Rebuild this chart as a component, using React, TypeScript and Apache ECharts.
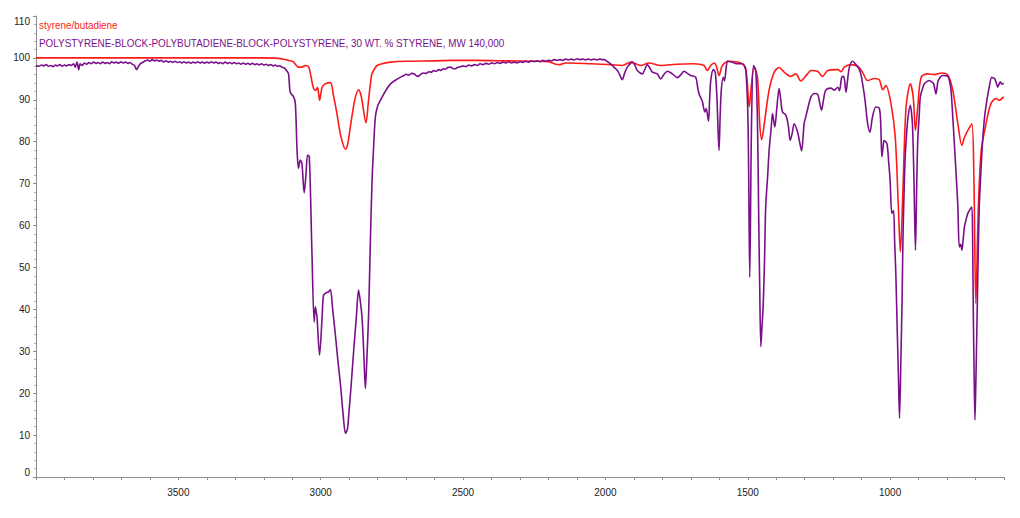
import React, { useEffect, useRef } from "react";
import * as echarts from "echarts";

const SERIES_RED_NAME = "styrene/butadiene";
const SERIES_PURPLE_NAME =
  "POLYSTYRENE-BLOCK-POLYBUTADIENE-BLOCK-POLYSTYRENE, 30 WT. % STYRENE, MW 140,000";

const X_MIN = 600;
const X_MAX = 4000;
const Y_MIN = 0;
const Y_MAX = 110;
const X_LABEL_STEP = 500;

// [wavenumber (cm-1), transmittance (%)]
const styreneButadiene: [number, number][] = [
  [4000, 100], [3500, 100], [3200, 100], [3150, 99.9], [3125, 99.6], [3113, 99.4],
  [3100, 99.2], [3095, 99.0], [3085, 98.2], [3078, 97.8], [3066, 97.8], [3054, 98.2],
  [3042, 97.8], [3034, 95.5], [3025, 92.7], [3017, 92.3], [3011, 93.0], [3004, 89.9],
  [2995, 93.0], [2984, 93.8], [2966, 94.1], [2955, 91], [2943, 86.7], [2930, 81.5],
  [2913, 78.2], [2905, 79.5], [2896, 83.5], [2887, 87.5], [2878, 90.7], [2867, 92.4],
  [2860, 91.5], [2855, 89.9], [2841, 84.5], [2832, 89.9], [2826, 93.5], [2820, 96.2],
  [2810, 97.5], [2802, 98.2], [2780, 98.7], [2755, 99.0], [2700, 99.2], [2600, 99.3],
  [2544, 99.4], [2450, 99.4], [2350, 99.3], [2250, 99.2], [2200, 99.1], [2175, 98.5],
  [2160, 98.4], [2140, 98.8], [2122, 98.8], [2050, 98.6], [1982, 98.4], [1941, 98.2],
  [1911, 99.0], [1876, 98.2], [1847, 98.8], [1806, 98.2], [1750, 98.5], [1689, 98.6],
  [1654, 98.2], [1642, 97.0], [1630, 98.2], [1618, 98.8], [1610, 98], [1601, 95.8],
  [1589, 98.2], [1566, 99.2], [1525, 98.8], [1507, 97.5], [1495, 88.3], [1487, 93.7],
  [1478, 97.8], [1466, 95.4], [1458, 84.3], [1451, 80.5], [1442, 84.3], [1425, 92.3],
  [1407, 96.6], [1390, 97.7], [1372, 96.6], [1349, 95.6], [1331, 96.2], [1314, 94.5],
  [1290, 96.2], [1278, 97.0], [1255, 96.8], [1237, 95.6], [1219, 97.0], [1184, 97.2],
  [1172, 96.7], [1161, 97.8], [1138, 98.4], [1114, 98.0], [1097, 96.6], [1079, 94.6],
  [1056, 95.1], [1038, 94.8], [1026, 92.4], [1015, 93.4], [997, 89.1], [982, 81.1],
  [971, 64.4], [964, 53.7], [955, 68.4], [944, 88.3], [929, 93.8], [919, 90.7],
  [911, 82.7], [903, 88.3], [891, 95.4], [868, 96.2], [844, 96.0], [820, 96.4],
  [797, 95.9], [780, 92.3], [762, 84.3], [748, 79.1], [739, 81.0], [727, 82.7],
  [713, 84.3], [706, 72.4], [699, 41.4], [690, 64.4], [680, 77.9], [663, 84.3],
  [646, 89.1], [628, 90.3], [617, 89.9], [601, 90.7],
];

const sbsCopolymer: [number, number][] = [
  [4000, 98.2], [3990, 98.0], [3980, 98.3], [3972, 98.1], [3964, 98.4], [3956, 98.0],
  [3948, 98.2], [3940, 97.9], [3932, 98.3], [3924, 98.1], [3916, 98.4], [3908, 98.0],
  [3900, 98.3], [3892, 98.1], [3884, 98.4], [3876, 98.2], [3868, 98.6], [3862, 97.8],
  [3856, 99.0], [3850, 97.2], [3845, 98.6], [3838, 98.2], [3830, 98.8], [3822, 98.5],
  [3814, 98.9], [3806, 98.6], [3798, 99.0], [3790, 98.7], [3782, 98.9], [3774, 98.6],
  [3766, 99.0], [3758, 98.7], [3750, 98.9], [3742, 98.6], [3734, 99.1], [3726, 98.8],
  [3718, 99.0], [3710, 98.7], [3702, 99.1], [3694, 98.8], [3686, 99.0], [3678, 98.7],
  [3670, 98.9], [3662, 98.5], [3654, 98.2], [3647, 97.2], [3640, 98.0], [3632, 98.7],
  [3624, 99.0], [3616, 99.3], [3608, 99.5], [3600, 99.2], [3592, 99.6], [3584, 99.3],
  [3576, 99.5], [3568, 99.2], [3560, 99.4], [3552, 99.0], [3544, 99.3], [3536, 99.0],
  [3528, 99.2], [3520, 98.9], [3512, 99.2], [3504, 98.9], [3496, 99.1], [3488, 98.8],
  [3480, 99.1], [3472, 98.8], [3464, 99.0], [3456, 98.7], [3448, 99.0], [3440, 98.8],
  [3432, 99.1], [3424, 98.8], [3416, 99.0], [3408, 98.7], [3400, 99.0], [3392, 98.8],
  [3384, 99.1], [3376, 98.8], [3368, 99.0], [3360, 98.7], [3352, 98.9], [3344, 98.6],
  [3336, 99.0], [3328, 98.7], [3320, 98.9], [3312, 98.6], [3304, 98.9], [3296, 98.6],
  [3288, 98.8], [3280, 98.5], [3272, 98.8], [3264, 98.5], [3256, 98.7], [3248, 98.4],
  [3240, 98.7], [3232, 98.4], [3224, 98.6], [3216, 98.3], [3208, 98.6], [3200, 98.3],
  [3192, 98.5], [3184, 98.2], [3176, 98.4], [3168, 98.1], [3160, 98.3], [3152, 98.0],
  [3144, 98.1], [3136, 97.8], [3128, 97.6], [3120, 97.0], [3113, 96.2],
  [3107, 91.8], [3095, 90.7], [3089, 89.1], [3083, 77.9], [3078, 73.6], [3072, 75.6],
  [3066, 74.8], [3058, 67.8], [3052, 72], [3046, 76.8], [3040, 76.4], [3031, 54.1],
  [3023, 37.0], [3019, 40.6], [3016, 39.5], [3013, 38.2], [3004, 29.1], [2995, 38.2],
  [2990, 43.4], [2980, 44.0], [2972, 44.2], [2966, 44.7], [2958, 40], [2949, 34.3],
  [2940, 28], [2931, 22.3], [2920, 14], [2913, 10.4], [2906, 11.5], [2902, 14.4],
  [2893, 22], [2884, 30.3], [2875, 38], [2867, 44.6], [2861, 42], [2855, 38.2],
  [2849, 30], [2843, 21.1], [2838, 28], [2832, 38.2], [2826, 55], [2820, 70.0],
  [2814, 79], [2808, 85.9], [2800, 88.5], [2790, 89.9], [2775, 91.8], [2755, 93.8],
  [2730, 95], [2708, 95.8], [2700, 96.1], [2690, 95.9], [2680, 96.3], [2673, 96.2],
  [2665, 95.8], [2658, 95.6], [2650, 96.0], [2640, 96.4], [2630, 96.3], [2620, 96.7],
  [2610, 96.6], [2603, 97.0], [2594, 96.8], [2586, 97.2], [2578, 97.0], [2570, 97.4],
  [2562, 97.3], [2554, 97.7], [2544, 97.8], [2536, 97.5], [2528, 97.4], [2520, 97.7],
  [2510, 97.9], [2500, 98.1], [2490, 97.9], [2480, 98.3], [2470, 98.1], [2460, 98.4],
  [2450, 98.2], [2440, 98.6], [2430, 98.4], [2420, 98.7], [2410, 98.5], [2400, 98.8],
  [2390, 98.6], [2380, 98.9], [2370, 98.7], [2360, 99.0], [2350, 98.8], [2340, 99.1],
  [2330, 98.8], [2320, 99.0], [2310, 98.8], [2300, 99.1], [2290, 98.9], [2280, 99.2],
  [2270, 99.0], [2260, 99.3], [2250, 99.1], [2240, 99.3], [2230, 99.1], [2220, 99.4],
  [2210, 99.2], [2200, 99.4], [2190, 99.3], [2180, 99.6], [2170, 99.4], [2160, 99.6],
  [2150, 99.4], [2140, 99.7], [2130, 99.5], [2120, 99.7], [2110, 99.5], [2100, 99.8],
  [2090, 99.6], [2080, 99.7], [2070, 99.5], [2060, 99.7], [2050, 99.5], [2040, 99.7],
  [2030, 99.5], [2020, 99.7], [2010, 99.6], [2005, 99.6], [1995, 99.2], [1982, 98.6],
  [1970, 97.8], [1958, 97.0],
  [1950, 96.0], [1941, 94.8], [1932, 96.5], [1923, 97.8], [1905, 99.0], [1896, 98.2],
  [1888, 97.0], [1870, 96.2], [1862, 97.2], [1853, 98.4], [1844, 97.6], [1835, 96.6],
  [1818, 96.2], [1806, 95.0], [1795, 96.0], [1782, 96.8], [1765, 96.2], [1747, 95.3],
  [1735, 96.0], [1724, 96.8], [1712, 96.3], [1700, 95.8], [1683, 95.4], [1676, 93],
  [1671, 91.4], [1665, 90.5], [1659, 89.5], [1651, 87.1], [1646, 87.9], [1638, 84.9],
  [1634, 90], [1630, 94.6], [1621, 97.2], [1614, 96.5], [1608, 90], [1601, 77.9],
  [1597, 86], [1593, 92.3], [1586, 95.4], [1582, 94.5], [1576, 97.5], [1571, 99.2],
  [1560, 99.1], [1548, 98.8], [1536, 98.6], [1519, 98.6], [1507, 97.0], [1499, 84.3],
  [1493, 47.7], [1487, 83.5], [1480, 98.2], [1472, 97.0], [1466, 85], [1462, 64.4],
  [1458, 45], [1454, 31.1], [1450, 36], [1446, 40.6], [1441, 52], [1437, 64.4],
  [1430, 72], [1425, 77.9], [1418, 83], [1413, 86.7], [1405, 83.5], [1398, 88],
  [1390, 92.7], [1384, 90], [1378, 87.1], [1366, 86.3], [1358, 84], [1351, 80.3],
  [1344, 82], [1337, 84.3], [1325, 82.3], [1318, 80], [1311, 77.8], [1302, 84.3],
  [1296, 86], [1278, 90.7], [1266, 91.5], [1255, 91.4], [1248, 89.5], [1241, 87.5],
  [1234, 90], [1226, 92.3], [1208, 92.8], [1196, 92.3], [1184, 93.0], [1178, 92.2],
  [1170, 95.4], [1163, 95.6], [1155, 91.8], [1149, 95], [1143, 97.8], [1132, 99.2],
  [1120, 98.4], [1110, 97.5], [1103, 96.2], [1097, 94], [1091, 91.4], [1085, 88],
  [1079, 84.3], [1071, 82.3], [1062, 85.9], [1050, 88.3], [1038, 88.0], [1033, 84.3],
  [1029, 76.4], [1025, 78.5], [1021, 80.3], [1011, 79.5], [1005, 75], [1000, 70.8],
  [994, 62.9], [988, 63.6], [984, 56], [980, 48.6], [975, 35], [971, 24.7],
  [967, 14.0], [962, 28.7], [958, 42], [955, 56.5], [951, 68], [947, 76.4],
  [942, 82], [937, 85.9], [929, 88.7], [925, 87], [921, 83.5], [916, 70],
  [911, 54.1], [907, 68], [903, 80.3], [898, 86], [894, 90.7], [887, 92.5],
  [880, 93.8], [870, 94.4], [862, 94.6], [855, 94.3], [847, 93.8], [839, 91.4],
  [835, 93], [831, 94.6], [815, 95.8], [797, 95.6], [790, 94], [786, 92.3],
  [780, 86], [775, 80.3], [768, 72], [762, 64.4], [757, 54.9], [752, 55.5],
  [748, 54.1], [743, 57], [739, 59.7], [733, 61.5], [727, 62.9], [720, 63.8],
  [713, 64.4], [710, 55], [708, 40.6], [705, 25], [702, 13.6], [699, 22],
  [696, 32.7], [692, 48], [687, 64.4], [681, 73], [675, 80.3], [668, 86],
  [660, 89.9], [652, 93], [643, 95.4], [637, 95.2], [632, 95.0], [627, 94],
  [622, 93.0], [617, 93.8], [613, 94.3], [607, 93.7], [601, 94.0],
];

const RED = "#ff1a1a";
const PURPLE = "#7a0f8a";
const FONT = "'Liberation Sans', Arial, sans-serif";

export default function App() {
  const ref = useRef<HTMLDivElement>(null);

  useEffect(() => {
    if (!ref.current) return;
    const chart = echarts.init(ref.current, undefined, { renderer: "svg" });
    chart.setOption({
      animation: false,
      backgroundColor: "#ffffff",
      textStyle: { fontFamily: FONT },
      grid: { left: 36, right: 16, top: 16, bottom: 41, containLabel: false },
      xAxis: {
        type: "value",
        min: X_MIN,
        max: X_MAX,
        interval: 100,
        inverse: true,
        axisLine: { show: true, lineStyle: { color: "#8c8c8c", width: 1 } },
        axisTick: { show: true, length: 3, lineStyle: { color: "#8c8c8c" } },
        axisLabel: {
          margin: 10,
          fontSize: 10,
          color: "#222",
          fontFamily: FONT,
          formatter: (v: number) =>
            v % X_LABEL_STEP === 0 && v !== X_MAX ? String(v) : "",
        },
        splitLine: { show: false },
      },
      yAxis: {
        type: "value",
        min: Y_MIN,
        max: Y_MAX,
        interval: 10,
        axisLine: { show: true, lineStyle: { color: "#8c8c8c", width: 1 } },
        axisTick: { show: true, length: 3, lineStyle: { color: "#8c8c8c" } },
        minorTick: { show: true, splitNumber: 5, length: 2, lineStyle: { color: "#b0b0b0" } },
        axisLabel: {
          margin: 6,
          fontSize: 10,
          color: "#222",
          fontFamily: FONT,
          verticalAlignMaxLabel: "top",
          verticalAlignMinLabel: "bottom",
        },
        splitLine: { show: false },
      },
      graphic: [
        {
          type: "text",
          x: 39,
          y: 20,
          scaleX: 0.9,
          style: {
            text: SERIES_RED_NAME,
            fill: RED,
            fontSize: 11,
            fontFamily: FONT,
            verticalAlign: "top",
          },
        },
        {
          type: "text",
          x: 39,
          y: 38,
          scaleX: 0.9,
          style: {
            text: SERIES_PURPLE_NAME,
            fill: PURPLE,
            fontSize: 11,
            fontFamily: FONT,
            verticalAlign: "top",
          },
        },
      ],
      series: [
        {
          name: SERIES_RED_NAME,
          type: "line",
          data: styreneButadiene,
          showSymbol: false,
          symbol: "none",
          smooth: 0.3,
          lineStyle: { color: RED, width: 1.6 },
          z: 2,
        },
        {
          name: SERIES_PURPLE_NAME,
          type: "line",
          data: sbsCopolymer,
          showSymbol: false,
          symbol: "none",
          smooth: 0.3,
          lineStyle: { color: PURPLE, width: 1.6 },
          z: 3,
        },
      ],
    });
    return () => chart.dispose();
  }, []);

  return (
    <div
      ref={ref}
      style={{ position: "absolute", left: 0, top: 0, width: 1020, height: 518 }}
    />
  );
}
